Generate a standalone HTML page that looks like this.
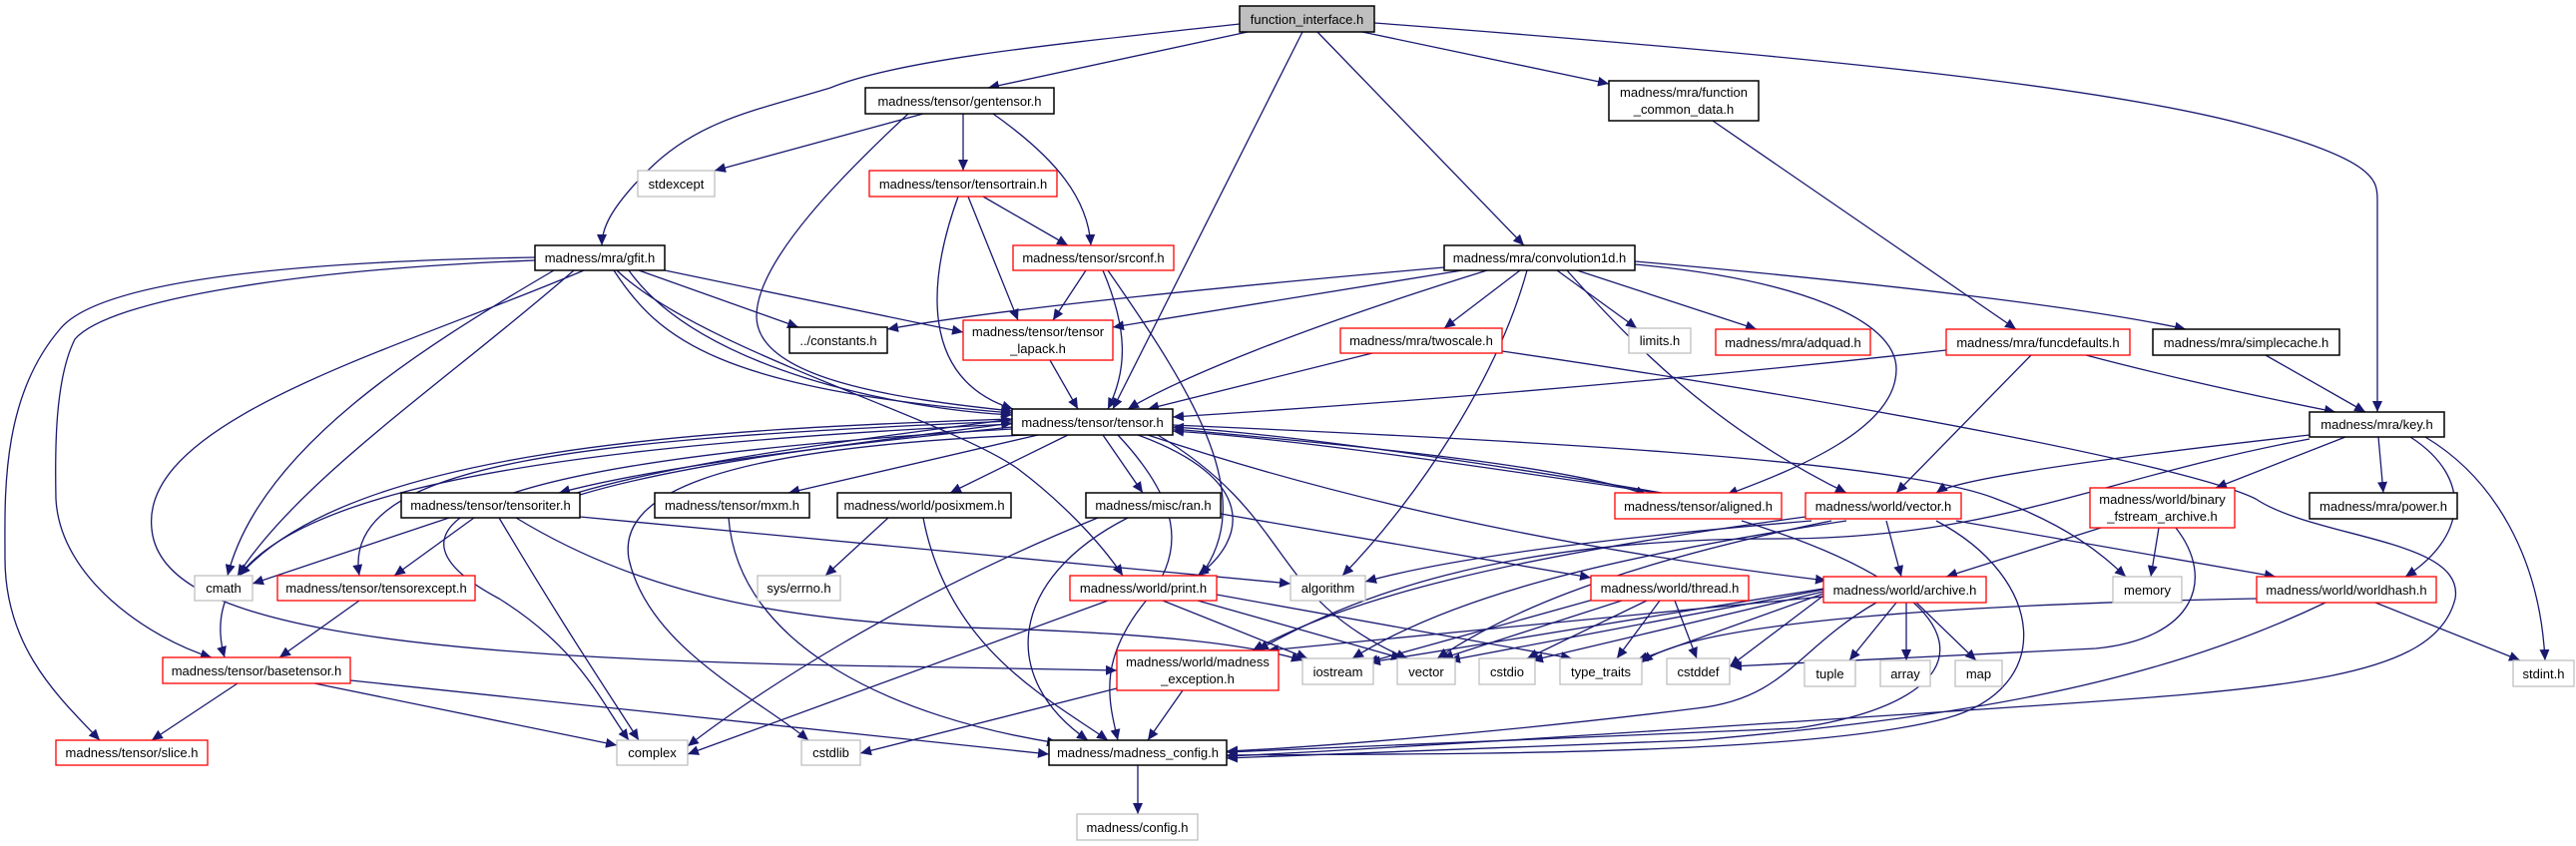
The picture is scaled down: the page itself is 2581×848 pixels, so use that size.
<!DOCTYPE html>
<html><head><meta charset="utf-8"><style>
html,body{margin:0;padding:0;background:#fff;}
svg{display:block;}
text{font-family:"Liberation Sans",sans-serif;font-size:13px;fill:#000;}
.e{fill:none;stroke:#191970;stroke-width:1.3;marker-end:url(#a);}
.n{fill:#fff;stroke:#000;stroke-width:1.5;}
.r{fill:#fff;stroke:#ff0000;stroke-width:1.3;}
.g{fill:#fff;stroke:#bfbfbf;stroke-width:1.3;}
</style></head><body>
<svg width="2581" height="848" viewBox="0 0 2581 848" xmlns="http://www.w3.org/2000/svg">
<defs><marker id="a" markerUnits="userSpaceOnUse" markerWidth="12" markerHeight="10" refX="11" refY="5" orient="auto"><path d="M0,0 L11,5 L0,10 z" fill="#191970"/></marker></defs>
<g>
<path class="e" d="M1250,32 L990,88"/>
<path class="e" d="M1305,32 L1115,410"/>
<path class="e" d="M1320,32 L1527,246"/>
<path class="e" d="M1365,32 L1612,84"/>
<path class="e" d="M1242,24 C1050,45 900,60 832,88 C760,110 700,120 650,170 C610,210 603,230 603,246"/>
<path class="e" d="M1377,23 C1800,55 2100,85 2250,125 C2380,160 2382,180 2382,200 L2382,413"/>
<path class="e" d="M925,114 L716,171"/>
<path class="e" d="M965,114 L965,171"/>
<path class="e" d="M995,114 C1060,160 1090,200 1093,246"/>
<path class="e" d="M910,114 C850,170 758,260 758,317 C758,380 900,400 1014,412"/>
<path class="e" d="M970,197 L1020,321"/>
<path class="e" d="M985,197 L1070,246"/>
<path class="e" d="M960,197 C930,280 920,380 1015,410"/>
<path class="e" d="M1088,271 L1055,321"/>
<path class="e" d="M1105,271 C1130,330 1130,370 1110,410"/>
<path class="e" d="M1110,271 C1200,400 1260,500 1203,577"/>
<path class="e" d="M640,271 L800,328"/>
<path class="e" d="M666,271 L965,333"/>
<path class="e" d="M615,271 C660,340 720,390 1014,414"/>
<path class="e" d="M630,271 C700,370 900,410 1014,416"/>
<path class="e" d="M575,271 C450,380 300,480 238,577"/>
<path class="e" d="M555,271 C420,350 260,450 228,577"/>
<path class="e" d="M536,258 C300,262 100,280 60,330 C0,400 5,500 5,560 C5,650 60,700 100,742"/>
<path class="e" d="M536,261 C300,270 110,300 75,340 C55,380 55,450 56,500 C60,580 150,640 212,659"/>
<path class="e" d="M618,271 C700,350 950,420 1020,470 C1060,500 1100,540 1125,577"/>
<path class="e" d="M585,271 C400,350 140,420 152,530 C160,620 350,660 900,668 L1119,672"/>
<path class="e" d="M1447,268 C1200,290 1000,310 889,330"/>
<path class="e" d="M1465,271 L1115,328"/>
<path class="e" d="M1490,271 C1300,330 1180,380 1130,410"/>
<path class="e" d="M1523,271 L1447,329"/>
<path class="e" d="M1560,271 L1640,329"/>
<path class="e" d="M1580,271 L1760,330"/>
<path class="e" d="M1638,262 C1900,285 2100,310 2190,330"/>
<path class="e" d="M1638,265 C1800,280 1900,320 1900,370 C1900,430 1800,470 1730,496"/>
<path class="e" d="M1570,271 C1640,350 1720,430 1850,494"/>
<path class="e" d="M1530,271 C1500,380 1420,500 1345,577"/>
<path class="e" d="M1014,428 C800,450 650,470 560,494"/>
<path class="e" d="M581,496 C700,460 900,440 1014,424"/>
<path class="e" d="M578,494 C700,458 900,436 1014,420"/>
<path class="e" d="M1040,436 L790,494"/>
<path class="e" d="M1070,436 L952,494"/>
<path class="e" d="M1105,436 L1145,494"/>
<path class="e" d="M1140,436 C1260,480 1250,540 1200,577"/>
<path class="e" d="M1175,430 C1400,450 1580,470 1650,496"/>
<path class="e" d="M1660,494 C1500,470 1300,440 1175,432"/>
<path class="e" d="M1665,494 C1500,466 1300,436 1175,428"/>
<path class="e" d="M1014,420 C700,430 350,450 240,577"/>
<path class="e" d="M1014,422 C600,440 340,460 360,577"/>
<path class="e" d="M1014,425 C500,450 180,500 225,659"/>
<path class="e" d="M1014,430 C500,460 350,520 500,600 C580,650 600,700 630,742"/>
<path class="e" d="M1030,436 C700,450 620,500 630,560 C650,650 760,700 810,742"/>
<path class="e" d="M1175,426 C1500,440 1900,460 2000,500 C2080,530 2110,560 2130,578"/>
<path class="e" d="M1150,436 C1400,520 1650,560 1830,582"/>
<path class="e" d="M1120,436 C1180,500 1190,550 1150,600 C1100,660 1110,700 1120,742"/>
<path class="e" d="M1160,436 C1300,520 1270,600 1410,660"/>
<path class="e" d="M450,519 L253,585"/>
<path class="e" d="M475,519 L395,577"/>
<path class="e" d="M500,519 C560,620 600,680 640,742"/>
<path class="e" d="M517,519 C650,600 800,625 1000,630 C1150,635 1250,645 1305,662"/>
<path class="e" d="M581,518 L1293,585"/>
<path class="e" d="M360,602 L280,659"/>
<path class="e" d="M238,685 L152,742"/>
<path class="e" d="M315,685 L618,747"/>
<path class="e" d="M351,682 L1051,756"/>
<path class="e" d="M730,519 C740,650 900,720 1060,745"/>
<path class="e" d="M890,519 L827,577"/>
<path class="e" d="M925,519 C950,650 1050,700 1110,742"/>
<path class="e" d="M1100,519 C900,600 750,700 689,748"/>
<path class="e" d="M1130,519 C1010,580 1000,680 1090,742"/>
<path class="e" d="M1223,515 L1594,579"/>
<path class="e" d="M1165,602 L1310,660"/>
<path class="e" d="M1200,602 L1405,660"/>
<path class="e" d="M1219,596 L1575,660"/>
<path class="e" d="M1110,602 L689,756"/>
<path class="e" d="M1185,692 L1150,742"/>
<path class="e" d="M1119,690 L862,755"/>
<path class="e" d="M1625,602 L1445,660"/>
<path class="e" d="M1650,602 L1530,660"/>
<path class="e" d="M1663,602 L1620,660"/>
<path class="e" d="M1678,602 L1700,660"/>
<path class="e" d="M1600,600 L1370,664"/>
<path class="e" d="M1900,604 L1853,662"/>
<path class="e" d="M1910,604 L1910,662"/>
<path class="e" d="M1920,604 L1980,662"/>
<path class="e" d="M1880,604 C1800,650 1790,700 1700,710 C1500,735 1300,750 1229,753"/>
<path class="e" d="M1827,598 C1600,620 1400,640 1270,652"/>
<path class="e" d="M1827,590 L1372,664"/>
<path class="e" d="M1827,591 L1452,662"/>
<path class="e" d="M1827,593 L1535,662"/>
<path class="e" d="M1827,595 L1640,662"/>
<path class="e" d="M1827,597 L1733,668"/>
<path class="e" d="M1890,522 L1905,578"/>
<path class="e" d="M1850,522 C1600,560 1450,600 1355,660"/>
<path class="e" d="M1835,522 C1600,570 1500,620 1440,660"/>
<path class="e" d="M1815,522 C1600,540 1450,560 1368,583"/>
<path class="e" d="M1809,518 C1500,560 1350,600 1255,652"/>
<path class="e" d="M1940,522 C2050,580 2060,690 1950,720 C1800,760 1400,755 1229,757"/>
<path class="e" d="M1960,522 L2280,578"/>
<path class="e" d="M2105,529 L1950,578"/>
<path class="e" d="M2163,529 L2155,578"/>
<path class="e" d="M2180,529 C2220,580 2200,640 2100,650 C1900,660 1800,665 1734,668"/>
<path class="e" d="M2314,436 C2100,460 1960,480 1940,494"/>
<path class="e" d="M2350,438 L2220,489"/>
<path class="e" d="M2383,438 L2388,494"/>
<path class="e" d="M2415,438 C2480,480 2470,540 2410,578"/>
<path class="e" d="M2430,438 C2500,480 2545,560 2550,662"/>
<path class="e" d="M2314,440 C2100,480 2000,540 1780,540 C1500,540 1350,600 1260,652"/>
<path class="e" d="M1505,352 C1900,410 2200,470 2260,500 C2320,540 2470,540 2460,600 C2440,680 2300,690 2000,710 C1700,730 1400,750 1229,758"/>
<path class="e" d="M1950,351 C1600,390 1300,410 1175,418"/>
<path class="e" d="M2035,356 L1900,494"/>
<path class="e" d="M2090,356 C2200,385 2300,405 2340,413"/>
<path class="e" d="M2270,356 L2370,413"/>
<path class="e" d="M1716,121 L2020,330"/>
<path class="e" d="M2380,604 L2525,662"/>
<path class="e" d="M2330,604 C2150,690 1950,720 1700,742 L1229,760"/>
<path class="e" d="M2261,600 C2000,605 1700,620 1645,664"/>
<path class="e" d="M1745,522 C2000,600 2000,700 1800,730 L1229,754"/>
<path class="e" d="M1140,767 L1140,816"/>
<path class="e" d="M1052,361 L1080,410"/>
<path class="e" d="M1375,354 L1150,410"/>
</g>
<g>
<rect x="1242" y="6" width="135" height="26" fill="#bfbfbf" stroke="#000" stroke-width="1.5"/><text x="1309.5" y="24" text-anchor="middle">function_interface.h</text>
<rect class="n" x="867" y="88" width="189" height="26"/><text x="961.5" y="106" text-anchor="middle">madness/tensor/gentensor.h</text>
<rect class="n" x="1612" y="81" width="150" height="40"/><text x="1687" y="97" text-anchor="middle">madness/mra/function</text><text x="1687" y="114" text-anchor="middle">_common_data.h</text>
<rect class="g" x="639" y="171" width="77" height="26"/><text x="677.5" y="189" text-anchor="middle">stdexcept</text>
<rect class="r" x="871" y="171" width="188" height="26"/><text x="965" y="189" text-anchor="middle">madness/tensor/tensortrain.h</text>
<rect class="r" x="1015" y="246" width="161" height="25"/><text x="1095.5" y="263" text-anchor="middle">madness/tensor/srconf.h</text>
<rect class="n" x="536" y="246" width="130" height="25"/><text x="601" y="263" text-anchor="middle">madness/mra/gfit.h</text>
<rect class="n" x="1447" y="246" width="191" height="25"/><text x="1542.5" y="263" text-anchor="middle">madness/mra/convolution1d.h</text>
<rect class="n" x="791" y="328" width="98" height="26"/><text x="840" y="346" text-anchor="middle">../constants.h</text>
<rect class="r" x="965" y="321" width="150" height="40"/><text x="1040" y="337" text-anchor="middle">madness/tensor/tensor</text><text x="1040" y="354" text-anchor="middle">_lapack.h</text>
<rect class="r" x="1343" y="329" width="162" height="25"/><text x="1424" y="346" text-anchor="middle">madness/mra/twoscale.h</text>
<rect class="g" x="1632" y="329" width="62" height="25"/><text x="1663" y="346" text-anchor="middle">limits.h</text>
<rect class="r" x="1719" y="330" width="155" height="26"/><text x="1796.5" y="348" text-anchor="middle">madness/mra/adquad.h</text>
<rect class="r" x="1950" y="330" width="184" height="26"/><text x="2042" y="348" text-anchor="middle">madness/mra/funcdefaults.h</text>
<rect class="n" x="2157" y="330" width="187" height="26"/><text x="2250.5" y="348" text-anchor="middle">madness/mra/simplecache.h</text>
<rect class="n" x="1014" y="410" width="161" height="26"/><text x="1094.5" y="428" text-anchor="middle">madness/tensor/tensor.h</text>
<rect class="n" x="2314" y="413" width="135" height="25"/><text x="2381.5" y="430" text-anchor="middle">madness/mra/key.h</text>
<rect class="n" x="402" y="494" width="179" height="25"/><text x="491.5" y="511" text-anchor="middle">madness/tensor/tensoriter.h</text>
<rect class="n" x="656" y="494" width="155" height="25"/><text x="733.5" y="511" text-anchor="middle">madness/tensor/mxm.h</text>
<rect class="n" x="839" y="494" width="174" height="25"/><text x="926" y="511" text-anchor="middle">madness/world/posixmem.h</text>
<rect class="n" x="1088" y="494" width="135" height="25"/><text x="1155.5" y="511" text-anchor="middle">madness/misc/ran.h</text>
<rect class="r" x="1618" y="494" width="167" height="26"/><text x="1701.5" y="512" text-anchor="middle">madness/tensor/aligned.h</text>
<rect class="r" x="1809" y="494" width="156" height="26"/><text x="1887" y="512" text-anchor="middle">madness/world/vector.h</text>
<rect class="r" x="2094" y="489" width="145" height="40"/><text x="2166.5" y="505" text-anchor="middle">madness/world/binary</text><text x="2166.5" y="522" text-anchor="middle">_fstream_archive.h</text>
<rect class="n" x="2314" y="494" width="148" height="26"/><text x="2388" y="512" text-anchor="middle">madness/mra/power.h</text>
<rect class="g" x="195" y="577" width="58" height="25"/><text x="224" y="594" text-anchor="middle">cmath</text>
<rect class="r" x="278" y="577" width="198" height="25"/><text x="377" y="594" text-anchor="middle">madness/tensor/tensorexcept.h</text>
<rect class="g" x="759" y="577" width="83" height="25"/><text x="800.5" y="594" text-anchor="middle">sys/errno.h</text>
<rect class="r" x="1072" y="577" width="147" height="25"/><text x="1145.5" y="594" text-anchor="middle">madness/world/print.h</text>
<rect class="g" x="1293" y="577" width="75" height="25"/><text x="1330.5" y="594" text-anchor="middle">algorithm</text>
<rect class="r" x="1594" y="577" width="158" height="25"/><text x="1673" y="594" text-anchor="middle">madness/world/thread.h</text>
<rect class="r" x="1827" y="578" width="163" height="26"/><text x="1908.5" y="596" text-anchor="middle">madness/world/archive.h</text>
<rect class="g" x="2117" y="578" width="69" height="26"/><text x="2151.5" y="596" text-anchor="middle">memory</text>
<rect class="r" x="2261" y="578" width="180" height="26"/><text x="2351" y="596" text-anchor="middle">madness/world/worldhash.h</text>
<rect class="r" x="163" y="659" width="188" height="26"/><text x="257" y="677" text-anchor="middle">madness/tensor/basetensor.h</text>
<rect class="r" x="1119" y="652" width="162" height="40"/><text x="1200" y="668" text-anchor="middle">madness/world/madness</text><text x="1200" y="685" text-anchor="middle">_exception.h</text>
<rect class="g" x="1305" y="660" width="71" height="26"/><text x="1340.5" y="678" text-anchor="middle">iostream</text>
<rect class="g" x="1400" y="660" width="58" height="26"/><text x="1429" y="678" text-anchor="middle">vector</text>
<rect class="g" x="1482" y="660" width="56" height="26"/><text x="1510" y="678" text-anchor="middle">cstdio</text>
<rect class="g" x="1563" y="660" width="82" height="26"/><text x="1604" y="678" text-anchor="middle">type_traits</text>
<rect class="g" x="1670" y="660" width="63" height="26"/><text x="1701.5" y="678" text-anchor="middle">cstddef</text>
<rect class="g" x="1808" y="662" width="51" height="26"/><text x="1833.5" y="680" text-anchor="middle">tuple</text>
<rect class="g" x="1884" y="662" width="50" height="26"/><text x="1909" y="680" text-anchor="middle">array</text>
<rect class="g" x="1959" y="662" width="47" height="26"/><text x="1982.5" y="680" text-anchor="middle">map</text>
<rect class="g" x="2518" y="662" width="61" height="26"/><text x="2548.5" y="680" text-anchor="middle">stdint.h</text>
<rect class="r" x="56" y="742" width="152" height="25"/><text x="132" y="759" text-anchor="middle">madness/tensor/slice.h</text>
<rect class="g" x="618" y="742" width="71" height="25"/><text x="653.5" y="759" text-anchor="middle">complex</text>
<rect class="g" x="803" y="742" width="59" height="25"/><text x="832.5" y="759" text-anchor="middle">cstdlib</text>
<rect class="n" x="1051" y="742" width="178" height="25"/><text x="1140" y="759" text-anchor="middle">madness/madness_config.h</text>
<rect class="g" x="1079" y="816" width="121" height="26"/><text x="1139.5" y="834" text-anchor="middle">madness/config.h</text>
</g>
</svg>
</body></html>
